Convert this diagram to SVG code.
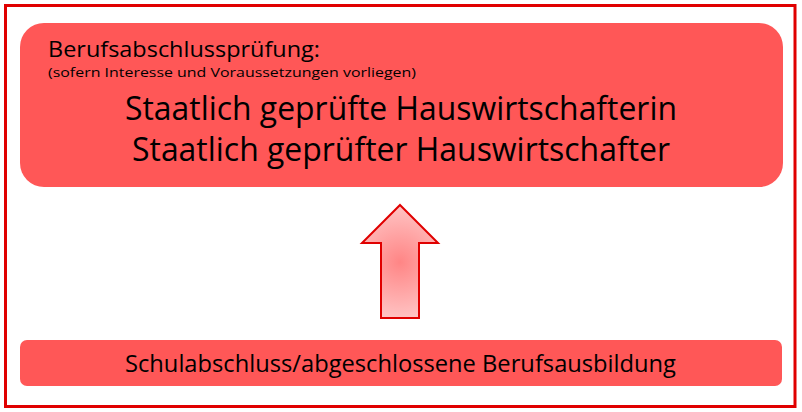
<svg xmlns="http://www.w3.org/2000/svg" width="802" height="412" viewBox="0 0 802 412">
<style>
.box{fill:#ff5757;}
.t{font-family:"Open Sans","Noto Sans","Liberation Sans",sans-serif;fill:#000;}
</style>
<defs>
<radialGradient id="ag" cx="400" cy="262" r="70" gradientUnits="userSpaceOnUse">
<stop offset="0" stop-color="#ff8585"/>
<stop offset="1" stop-color="#ffd2d2"/>
</radialGradient>
</defs>
<rect x="0" y="0" width="802" height="412" fill="#fff"/>
<rect x="5.5" y="5.5" width="789.5" height="401" fill="none" stroke="#e00000" stroke-width="3"/>
<g id="top">
<rect class="box" x="20" y="23" width="763" height="164" rx="24"/>
<text class="t" x="48" y="57" font-size="21" textLength="272" lengthAdjust="spacingAndGlyphs">Berufsabschlussprüfung:</text>
<text class="t" x="48" y="77" font-size="13.5" textLength="368" lengthAdjust="spacingAndGlyphs">(sofern Interesse und Voraussetzungen vorliegen)</text>
<text class="t" x="125" y="120" font-size="32" textLength="552" lengthAdjust="spacingAndGlyphs">Staatlich geprüfte Hauswirtschafterin</text>
<text class="t" x="132" y="161" font-size="32" textLength="538" lengthAdjust="spacingAndGlyphs">Staatlich geprüfter Hauswirtschafter</text>
</g>
<g id="bottom">
<rect class="box" x="20" y="340" width="762" height="46" rx="7"/>
<text class="t" x="125" y="372" font-size="24.5" textLength="551" lengthAdjust="spacingAndGlyphs">Schulabschluss/abgeschlossene Berufsausbildung</text>
</g>
<g id="connectors">
<path d="M400,205 L438,243 L419,243 L419,318 L381,318 L381,243 L362,243 Z" fill="url(#ag)" stroke="#e00000" stroke-width="2" stroke-linejoin="miter"/>
</g>
</svg>
